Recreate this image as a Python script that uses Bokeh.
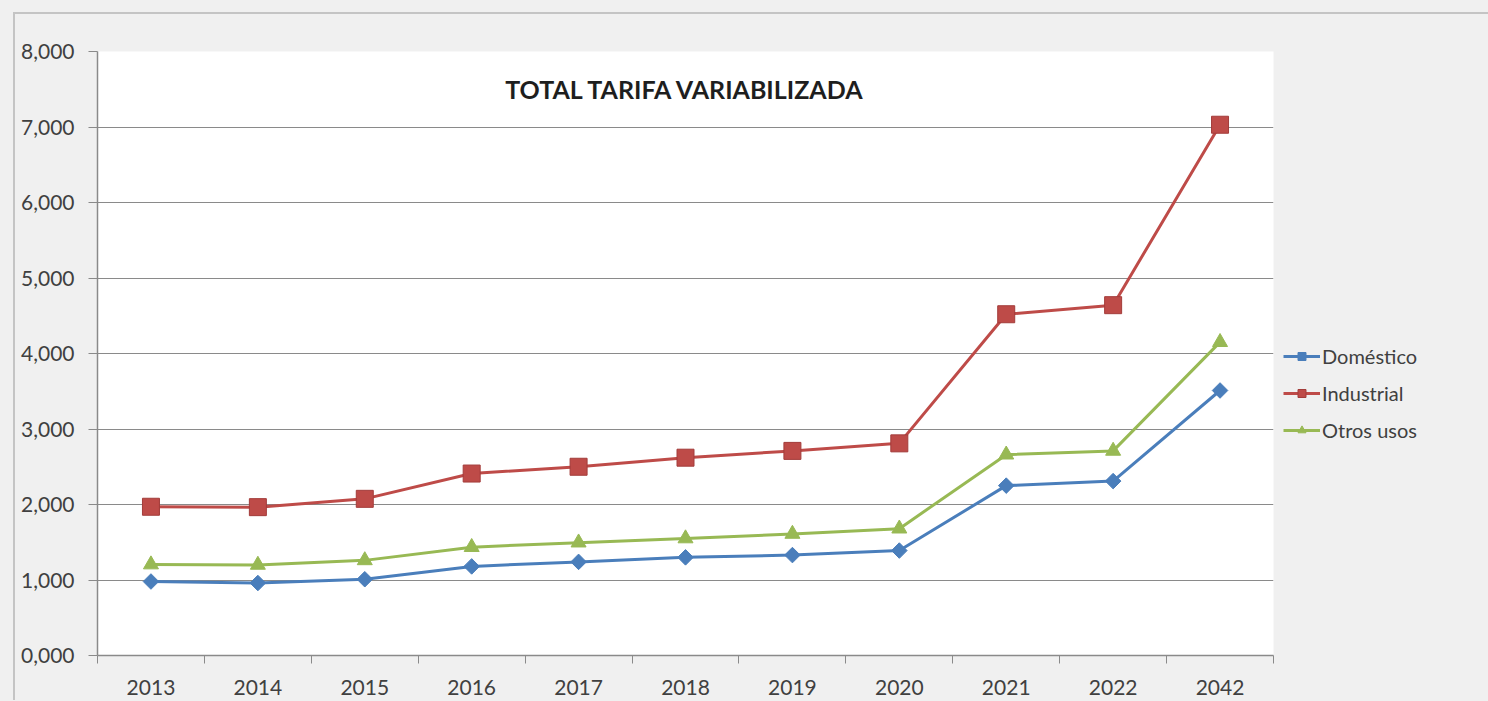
from bokeh.plotting import figure
from bokeh.models import Range1d, FixedTicker, Label, Legend, LegendItem
from bokeh.embed import file_html
from bokeh.resources import INLINE

years = ["2013", "2014", "2015", "2016", "2017", "2018", "2019", "2020", "2021", "2022", "2042"]
domestico = [980, 960, 1010, 1180, 1240, 1300, 1330, 1390, 2250, 2310, 3510]
industrial = [1970, 1965, 2075, 2410, 2500, 2620, 2710, 2810, 4520, 4640, 7030]
otros = [1205, 1200, 1260, 1435, 1495, 1550, 1610, 1680, 2660, 2710, 4150]
y_ticks = [0, 1000, 2000, 3000, 4000, 5000, 6000, 7000, 8000]
y_tick_labels = ["0,000", "1,000", "2,000", "3,000", "4,000", "5,000", "6,000", "7,000", "8,000"]
title_text = "TOTAL TARIFA VARIABILIZADA"
series_names = ["Doméstico", "Industrial", "Otros usos"]

FONT = "Lato"
TXT = "#404040"
GRID = "#8a8a8a"
BG = "#f0f0f0"

n = len(years)
xs = [i + 0.5 for i in range(n)]

p = figure(
    output_backend="svg", toolbar_location=None,
    x_range=Range1d(0, n), y_range=Range1d(0, 8000),
    frame_width=1176, frame_height=604,
    min_border_left=82, min_border_top=37, min_border_right=214, min_border_bottom=45,
    background_fill_color="white", border_fill_color=BG,
    outline_line_color=None,
)
p.styles = {"margin-left": "13px", "margin-top": "12px",
            "border-left": "2px solid #c4c4c4", "border-top": "2px solid #c4c4c4"}

# x axis: labels at category centres, ticks at category boundaries
xa = p.xaxis[0]
xa.ticker = FixedTicker(ticks=xs, minor_ticks=list(range(n + 1)))
xa.major_label_overrides = {x: y for x, y in zip(xs, years)}
xa.major_tick_out = 0
xa.major_tick_in = 0
xa.minor_tick_out = 8
xa.minor_tick_in = 0
xa.minor_tick_line_color = GRID
xa.axis_line_color = GRID
xa.axis_line_width = 1.5
xa.major_label_standoff = 16
xa.major_label_text_font = FONT
xa.major_label_text_font_size = "21px"
xa.major_label_text_color = TXT

ya = p.yaxis[0]
ya.ticker = FixedTicker(ticks=y_ticks)
ya.major_label_overrides = {t: l for t, l in zip(y_ticks, y_tick_labels)}
ya.major_tick_out = 9
ya.major_tick_in = 0
ya.minor_tick_out = 0
ya.minor_tick_in = 0
ya.major_tick_line_color = GRID
ya.axis_line_color = GRID
ya.axis_line_width = 1.5
ya.major_label_standoff = 14
ya.major_label_text_font = FONT
ya.major_label_text_font_size = "21px"
ya.major_label_text_color = TXT

p.xgrid.grid_line_color = None
p.ygrid.grid_line_color = GRID
p.ygrid.grid_line_width = 1.2

colors = ["#4a7ebb", "#be4b48", "#98b954"]
values = [domestico, industrial, otros]
items = []
for name, vals, col, mk in zip(series_names, values, colors, ["diamond", "square", "triangle"]):
    r1 = p.line(xs, vals, line_color=col, line_width=3)
    if mk == "diamond":
        r2 = p.scatter(xs, vals, marker="square", angle=0.785398, size=11,
                       fill_color=col, line_color=col)
    elif mk == "square":
        r2 = p.scatter(xs, vals, marker="square", size=17, fill_color=col, line_color="#a33c3a")
    else:
        r2 = p.scatter(xs, vals, marker="triangle", size=15, fill_color=col, line_color=col)
    items.append(LegendItem(label=name, renderers=[r1, r2]))

legend = Legend(items=items, location=(10, 213), orientation="vertical",
                border_line_color=None, background_fill_alpha=0,
                glyph_width=37, glyph_height=20, label_height=20,
                label_standoff=2, spacing=13, padding=0, margin=0,
                label_text_font=FONT, label_text_font_size="20px",
                label_text_color=TXT)
p.add_layout(legend, "right")

p.add_layout(Label(x=n / 2, y=7500, text=title_text, text_align="center",
                   text_baseline="middle", text_font=FONT, text_font_style="bold",
                   text_font_size="25px", text_color="#1e1e1e"))

html = file_html(p, INLINE)
style = "<style>html,body{margin:0;padding:0;background:%s;overflow:hidden}</style>" % BG
html = html.replace("</head>", style + "</head>", 1)
open("out.html", "w").write(html)
